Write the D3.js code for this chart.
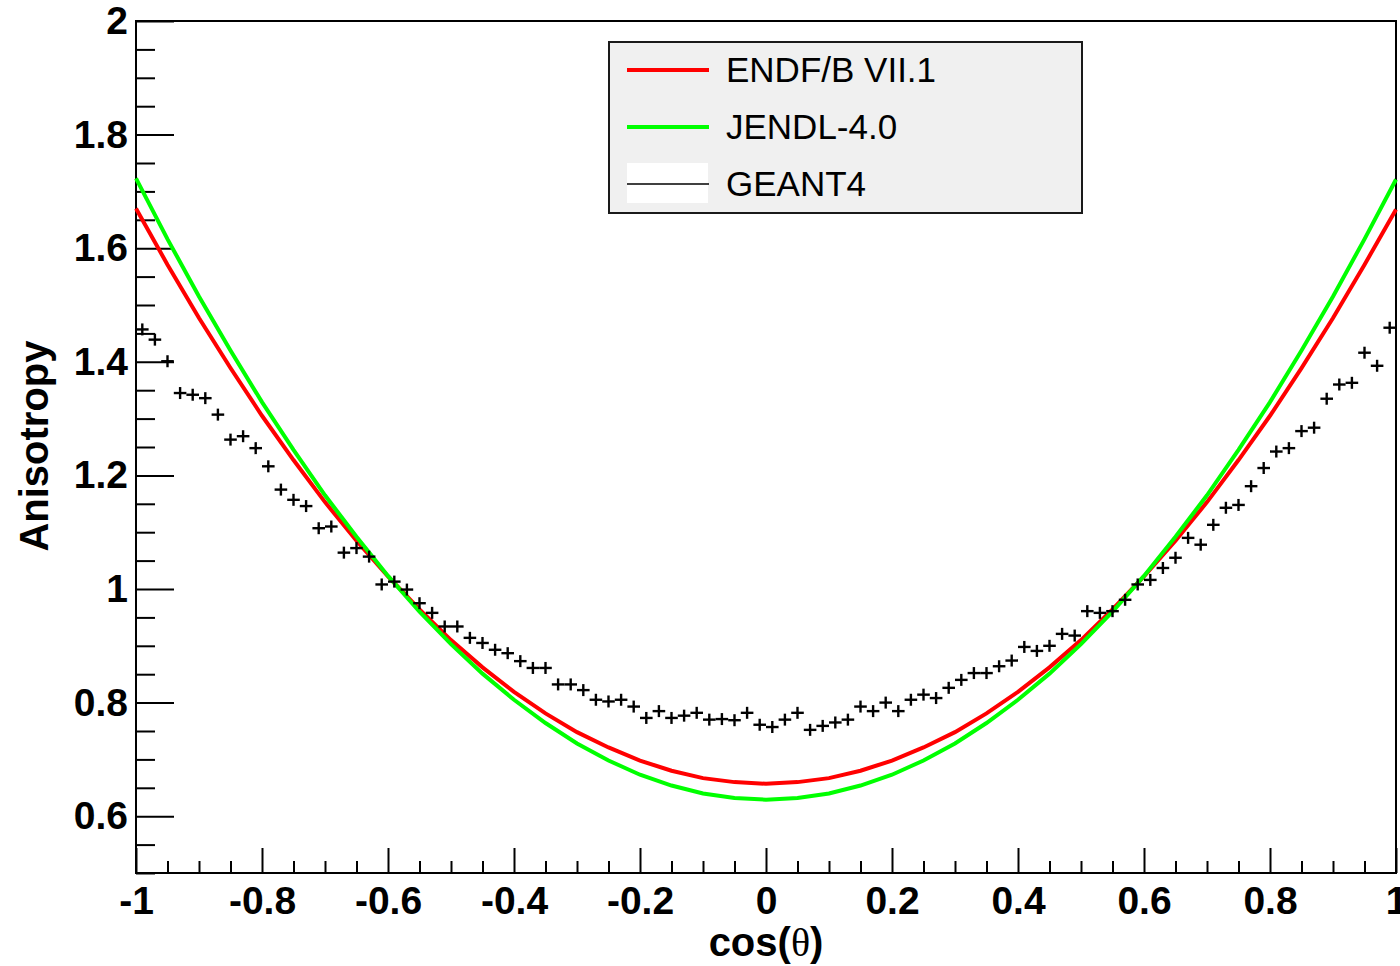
<!DOCTYPE html>
<html>
<head>
<meta charset="utf-8">
<script src="https://cdn.jsdelivr.net/npm/d3@7"></script>
<style>
    body { margin: 0; background: #fff; }
    svg { display: block; font-family: "Liberation Sans", Arial, Helvetica, sans-serif; }
</style>
</head>
<body>
<svg id="chart"></svg>
<script>
// Angular anisotropy vs cos(theta), ROOT style.
let svgWidth = 1400;
let svgHeight = 966;
let margin = {top: 21, bottom: 93, left: 136, right: 4};
let viewWidth = svgWidth - margin.left - margin.right;
let viewHeight = svgHeight - margin.top - margin.bottom;

// Evaluated curves, read every 0.05 in cos(theta) from -1 to 1.
let curveX = d3.range(41).map(i => -1 + i * 0.05);
let endfValues = [
    1.670, 1.571, 1.477, 1.389, 1.305, 1.227, 1.153, 1.085, 1.022, 0.964,
    0.910, 0.862, 0.819, 0.781, 0.748, 0.721, 0.698, 0.680, 0.667, 0.660,
    0.657,
    0.660, 0.667, 0.680, 0.698, 0.721, 0.748, 0.781, 0.819, 0.862, 0.910,
    0.964, 1.022, 1.085, 1.153, 1.227, 1.305, 1.389, 1.477, 1.571, 1.668
];
let jendlValues = [
    1.723, 1.616, 1.515, 1.420, 1.329, 1.245, 1.165, 1.092, 1.023, 0.960,
    0.903, 0.851, 0.805, 0.764, 0.728, 0.698, 0.673, 0.654, 0.640, 0.632,
    0.629,
    0.632, 0.640, 0.654, 0.673, 0.698, 0.728, 0.764, 0.805, 0.851, 0.903,
    0.960, 1.023, 1.092, 1.165, 1.245, 1.329, 1.420, 1.515, 1.616, 1.721
];

// GEANT4 histogram, 100 bins of width 0.02 between -1 and 1.
let binLow = -1;
let binWidth = 0.02;
let geantValues = [
    1.457, 1.439, 1.401, 1.345, 1.342, 1.336, 1.307, 1.263, 1.269, 1.248,
    1.216, 1.175, 1.157, 1.146, 1.107, 1.110, 1.064, 1.072, 1.057, 1.008,
    1.013, 0.999, 0.975, 0.958, 0.934, 0.934, 0.914, 0.905, 0.893, 0.887,
    0.873, 0.861, 0.861, 0.832, 0.832, 0.822, 0.805, 0.802, 0.805, 0.793,
    0.773, 0.785, 0.773, 0.777, 0.782, 0.770, 0.771, 0.769, 0.782, 0.761,
    0.757, 0.770, 0.782, 0.752, 0.759, 0.765, 0.770, 0.793, 0.785, 0.800,
    0.785, 0.805, 0.814, 0.808, 0.826, 0.840, 0.852, 0.852, 0.864, 0.874,
    0.898, 0.891, 0.900, 0.921, 0.918, 0.961, 0.958, 0.961, 0.981, 1.008,
    1.016, 1.037, 1.055, 1.090, 1.078, 1.113, 1.143, 1.148, 1.181, 1.213,
    1.242, 1.248, 1.278, 1.284, 1.335, 1.360, 1.363, 1.416, 1.393, 1.460
];

let xMajor = [-1, -0.8, -0.6, -0.4, -0.2, 0, 0.2, 0.4, 0.6, 0.8, 1];
let xTickLabels = ["-1", "-0.8", "-0.6", "-0.4", "-0.2", "0", "0.2", "0.4", "0.6", "0.8", "1"];
let yMajor = [0.6, 0.8, 1, 1.2, 1.4, 1.6, 1.8, 2];
let yTickLabels = ["0.6", "0.8", "1", "1.2", "1.4", "1.6", "1.8", "2"];

let seriesNames = ["ENDF/B VII.1", "JENDL-4.0", "GEANT4"];
let seriesColors = ["#ff0000", "#00ff00", "#000000"];

let svg = d3.select("#chart")
    .attr("width", svgWidth)
    .attr("height", svgHeight)
    .attr("viewBox", [0, 0, svgWidth, svgHeight]);

let xScale = d3.scaleLinear().domain([-1, 1]).range([margin.left, margin.left + viewWidth]);
let yScale = d3.scaleLinear().domain([0.5, 2]).range([margin.top + viewHeight, margin.top]);

let xMinor = d3.range(41).map(i => -1 + i * 0.05).filter(v => !xMajor.some(m => Math.abs(m - v) < 1e-6));
let yMinor = d3.range(31).map(i => 0.5 + i * 0.05).filter(v => !yMajor.some(m => Math.abs(m - v) < 1e-6));

// Axes: ticks point inwards, like ROOT.
let xAxisMinor = svg.append("g")
    .attr("transform", `translate(0,${margin.top + viewHeight})`)
    .call(d3.axisBottom(xScale).tickValues(xMinor).tickSize(-12).tickFormat(""));
let xAxis = svg.append("g")
    .attr("transform", `translate(0,${margin.top + viewHeight})`)
    .call(d3.axisBottom(xScale).tickValues(xMajor).tickSize(-25).tickPadding(13)
        .tickFormat((d, i) => xTickLabels[i]));
let yAxisMinor = svg.append("g")
    .attr("transform", `translate(${margin.left},0)`)
    .call(d3.axisLeft(yScale).tickValues(yMinor).tickSize(-19).tickFormat(""));
let yAxis = svg.append("g")
    .attr("transform", `translate(${margin.left},0)`)
    .call(d3.axisLeft(yScale).tickValues(yMajor).tickSize(-38).tickPadding(8)
        .tickFormat((d, i) => yTickLabels[i]));

svg.selectAll(".domain").remove();
svg.selectAll(".tick line").attr("stroke", "#000").attr("stroke-width", 2);
svg.selectAll(".tick text")
    .attr("fill", "#000")
    .style("font-size", "39px")
    .style("font-weight", "bold")
    .style("font-family", "'Liberation Sans', Arial, sans-serif");

// Frame.
svg.append("rect")
    .attr("x", margin.left)
    .attr("y", margin.top)
    .attr("width", viewWidth)
    .attr("height", viewHeight)
    .attr("fill", "none")
    .attr("stroke", "#000")
    .attr("stroke-width", 2);

// Curves.
let line = d3.line()
    .x(d => xScale(d[0]))
    .y(d => yScale(d[1]));

svg.append("path")
    .datum(curveX.map((x, i) => [x, endfValues[i]]))
    .attr("d", line)
    .attr("fill", "none")
    .attr("stroke", seriesColors[0])
    .attr("stroke-width", 4);

svg.append("path")
    .datum(curveX.map((x, i) => [x, jendlValues[i]]))
    .attr("d", line)
    .attr("fill", "none")
    .attr("stroke", seriesColors[1])
    .attr("stroke-width", 4);

// GEANT4 crosses: horizontal bar spans the bin.
let geant = geantValues.map((v, i) => ({lo: binLow + i * binWidth, hi: binLow + (i + 1) * binWidth, v: v}));
let crosses = svg.append("g")
    .attr("stroke", seriesColors[2])
    .attr("stroke-width", 2.4)
    .selectAll("g")
    .data(geant)
    .join("g");
crosses.append("line")
    .attr("x1", d => xScale(d.lo))
    .attr("x2", d => xScale(d.hi))
    .attr("y1", d => yScale(d.v))
    .attr("y2", d => yScale(d.v));
crosses.append("line")
    .attr("x1", d => xScale((d.lo + d.hi) / 2))
    .attr("x2", d => xScale((d.lo + d.hi) / 2))
    .attr("y1", d => yScale(d.v) - 6)
    .attr("y2", d => yScale(d.v) + 6);

// Axis titles.
svg.append("text")
    .attr("transform", `translate(48,446) rotate(-90)`)
    .attr("text-anchor", "middle")
    .style("font-size", "40px")
    .style("font-weight", "bold")
    .text("Anisotropy");

let xTitle = svg.append("text")
    .attr("x", 766)
    .attr("y", 956)
    .attr("text-anchor", "middle")
    .style("font-size", "40px")
    .style("font-weight", "bold");
xTitle.append("tspan").text("cos(");
xTitle.append("tspan")
    .style("font-family", "'Liberation Serif', 'Times New Roman', serif")
    .style("font-weight", "normal")
    .text("θ");
xTitle.append("tspan").text(")");

// Legend.
let legend = svg.append("g").attr("transform", "translate(609,42)");
legend.append("rect")
    .attr("width", 473)
    .attr("height", 171)
    .attr("fill", "#f0f0f0")
    .attr("stroke", "#1a1a1a")
    .attr("stroke-width", 2);

let entryY = [28, 85, 142];
legend.append("rect")
    .attr("x", 18)
    .attr("y", 121)
    .attr("width", 81)
    .attr("height", 40)
    .attr("fill", "#fff");

seriesNames.forEach((name, i) => {
    legend.append("line")
        .attr("x1", 18)
        .attr("x2", 100)
        .attr("y1", entryY[i])
        .attr("y2", entryY[i])
        .attr("stroke", seriesColors[i])
        .attr("stroke-width", i < 2 ? 4 : 1.5);
    legend.append("text")
        .attr("x", 117)
        .attr("y", entryY[i] + 12)
        .style("font-size", "35px")
        .attr("fill", "#000")
        .text(name);
});
</script>
</body>
</html>
